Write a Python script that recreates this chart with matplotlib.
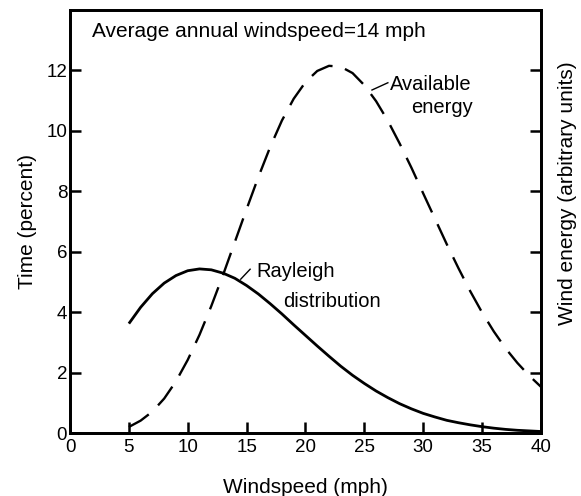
import matplotlib.pyplot as plt

plt.rcParams["font.family"] = ["Liberation Sans", "DejaVu Sans"]

# windspeed (mph) at which both curves were read
windspeed = [5, 6, 7, 8, 9, 10, 11, 12, 13, 14, 15, 16, 17, 18, 19, 20, 21, 22,
             23, 24, 25, 26, 27, 28, 29, 30, 31, 32, 33, 34, 35, 36, 37, 38, 39, 40]
# Rayleigh distribution, time (percent)
rayleigh = [3.62, 4.16, 4.61, 4.96, 5.21, 5.37, 5.43, 5.40, 5.29, 5.12, 4.88, 4.60,
            4.28, 3.94, 3.58, 3.23, 2.88, 2.54, 2.21, 1.91, 1.64, 1.39, 1.17, 0.97,
            0.80, 0.65, 0.53, 0.42, 0.34, 0.27, 0.21, 0.16, 0.12, 0.09, 0.07, 0.05]
# available energy (arbitrary units)
energy = [0.20, 0.41, 0.71, 1.14, 1.71, 2.42, 3.25, 4.20, 5.23, 6.32, 7.41, 8.47,
          9.46, 10.34, 11.06, 11.61, 11.98, 12.15, 12.12, 11.91, 11.51, 10.98,
          10.33, 9.58, 8.78, 7.93, 7.09, 6.25, 5.45, 4.69, 3.99, 3.36, 2.80, 2.32,
          1.90, 1.53]

x_ticks = [0, 5, 10, 15, 20, 25, 30, 35, 40]
y_ticks = [0, 2, 4, 6, 8, 10, 12]

fig = plt.figure(figsize=(5.81, 4.96), dpi=100)
ax = fig.add_axes([0.1205, 0.127, 0.8105, 0.853])
ax2 = ax.twinx()

ax.plot(windspeed, rayleigh, color="black", lw=2.0, solid_capstyle="butt")
ax2.plot(windspeed, energy, color="black", lw=1.7, linestyle=(0, (10, 5.5)))

ax.set_xlim(0, 40)
ax.set_ylim(0, 14)
ax2.set_ylim(0, 14)

ax.set_xticks(x_ticks)
ax.set_yticks(y_ticks)
ax2.set_yticks(y_ticks[1:])
ax2.set_yticklabels([])

ax.tick_params(axis="x", direction="in", length=8, width=1.8, labelsize=13.5, pad=4)
ax.tick_params(axis="y", direction="in", length=8, width=1.8, labelsize=13.5, pad=2)
ax2.tick_params(axis="y", direction="in", length=8, width=1.8)
for a in (ax, ax2):
    for s in a.spines.values():
        s.set_linewidth(2.0)

ax.set_xlabel("Windspeed (mph)", fontsize=15, labelpad=16)
ax.set_ylabel("Time (percent)", fontsize=15, labelpad=7)
ax2.set_ylabel("Wind energy (arbitrary units)", fontsize=15, rotation=90)
ax2.yaxis.set_label_coords(1.037, 0.567)

ax.text(1.87, 13.27, "Average annual windspeed=14 mph", fontsize=15, va="center")

ax.text(27.2, 11.52, "Available", fontsize=14.5, va="center")
ax.text(34.2, 10.76, "energy", fontsize=14.5, va="center", ha="right")
ax.plot([25.65, 27.0], [11.35, 11.59], color="black", lw=1.0)

ax.text(15.8, 5.33, "Rayleigh", fontsize=14.5, va="center")
ax.text(18.1, 4.34, "distribution", fontsize=14.5, va="center")
ax.plot([14.5, 15.3], [5.09, 5.42], color="black", lw=1.0)

fig.savefig("out.png", dpi=100)
